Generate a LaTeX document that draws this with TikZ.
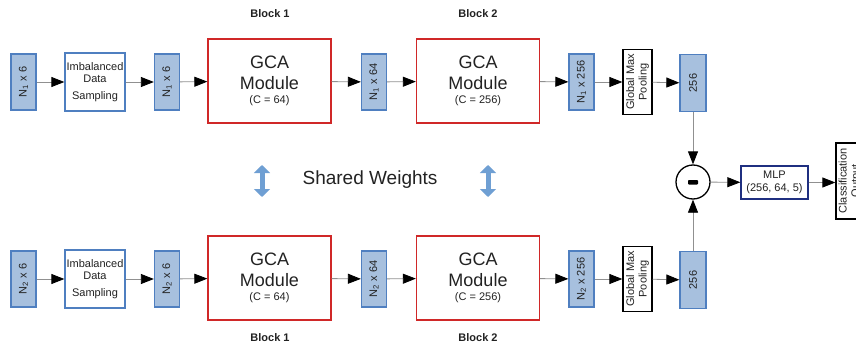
\documentclass[tikz,border=0pt]{standalone}
\usepackage{fontspec}
\setmainfont{Liberation Sans}
\usetikzlibrary{arrows.meta}
\definecolor{bfill}{HTML}{A7C0DE}
\definecolor{bdraw}{HTML}{4F7FC0}
\definecolor{rdraw}{HTML}{D02828}
\definecolor{navy}{HTML}{1F2F80}
\definecolor{lgray}{HTML}{909090}
\definecolor{swblue}{HTML}{6F9FD3}
\definecolor{txt}{HTML}{222222}
\newcommand{\gcasmall}{\fontsize{11}{12}\selectfont}
\newcommand{\gcalabel}[1]{GCA\\Module\\[-7pt]{\gcasmall (C = #1)}}
\begin{document}
\begin{tikzpicture}[x=1pt,y=-1pt,
  font=\fontsize{11}{12.5}\selectfont, text=txt,
  sbox/.style={draw=bdraw, fill=bfill, line width=1.3pt, rotate=90,
    minimum width=56pt, minimum height=25pt, inner sep=0pt},
  outbox/.style={sbox, minimum width=57pt, minimum height=26pt},
  imbbox/.style={draw=bdraw, fill=white, line width=1.3pt,
    minimum width=60pt, minimum height=58pt, inner sep=0pt, align=center},
  gcabox/.style={draw=rdraw, line width=1.3pt, minimum width=123pt,
    minimum height=84pt, inner sep=0pt, align=center,
    font=\fontsize{18}{21}\selectfont},
  gmpbox/.style={draw=black, line width=1.3pt, rotate=90, minimum width=65pt,
    minimum height=29pt, inner sep=0pt, align=center},
  mlpbox/.style={draw=navy, line width=1.3pt, minimum width=67pt,
    minimum height=33pt, inner sep=0pt, align=center},
  clsbox/.style={draw=black, line width=1.3pt, rotate=90, minimum width=76pt,
    minimum height=28pt, inner sep=0pt, align=center},
  conn/.style={draw=lgray, line width=0.8pt,
    -{Triangle[length=13pt,width=10pt,black]}},
  blocklbl/.style={font=\fontsize{11}{12}\selectfont\bfseries},
  swarrow/.style={draw=swblue, line width=5pt,
    {Triangle[length=8pt,width=16pt]}-{Triangle[length=8pt,width=16pt]}}
]
\path[use as bounding box] (0,0) rectangle (856,350);
\clip (0,0) rectangle (856,350);

% labels
\node[blocklbl] (b1t) at (270,14) {Block 1};
\node[blocklbl] (b2t) at (478,14) {Block 2};
\node[blocklbl] (b1b) at (270,338) {Block 1};
\node[blocklbl] (b2b) at (478,338) {Block 2};

% top row
\node[sbox]   (a1) at (23.5,82) {N\textsubscript{1} x 6};
\node[imbbox] (a2) at (95,82) {Imbalanced\\Data\\[4pt]Sampling};
\node[sbox]   (a3) at (167,82) {N\textsubscript{1} x 6};
\node[gcabox] (a4) at (269.5,81) {\gcalabel{64}};
\node[sbox]   (a5) at (374,82) {N\textsubscript{1} x 64};
\node[gcabox] (a6) at (478,81) {\gcalabel{256}};
\node[sbox]   (a7) at (581.5,82) {N\textsubscript{1} x 256};
\node[gmpbox] (a8) at (637.5,82) {Global Max\\Pooling};
\node[outbox] (a9) at (693,83) {256};

% bottom row
\node[sbox]   (c1) at (23.5,279) {N\textsubscript{2} x 6};
\node[imbbox] (c2) at (95,279) {Imbalanced\\Data\\[4pt]Sampling};
\node[sbox]   (c3) at (167,279) {N\textsubscript{2} x 6};
\node[gcabox] (c4) at (269.5,278) {\gcalabel{64}};
\node[sbox]   (c5) at (374,279) {N\textsubscript{2} x 64};
\node[gcabox] (c6) at (478,278) {\gcalabel{256}};
\node[sbox]   (c7) at (581.5,279) {N\textsubscript{2} x 256};
\node[gmpbox] (c8) at (637.5,279) {Global Max\\Pooling};
\node[outbox] (c9) at (693,280) {256};

% merge
\node[draw=black, line width=1.3pt, circle, minimum size=34pt, inner sep=0pt] (m) at (693,182) {};
\fill[black, rounded corners=0.8pt] (688,180) rectangle (698,184.5);
\node[mlpbox] (mlp) at (774.5,182.5) {MLP\\(256, 64, 5)};
\node[clsbox] (cls) at (850,181) {Classification\\Output};

% connectors
\foreach \r in {a,c}{
  \draw[conn] (\r1) -- (\r2);
  \draw[conn] (\r2) -- (\r3);
  \draw[conn] (\r3) -- (\r4);
  \draw[conn] (\r4) -- (\r5);
  \draw[conn] (\r5) -- (\r6);
  \draw[conn] (\r6) -- (\r7);
  \draw[conn] (\r7) -- (\r8);
  \draw[conn] (\r8) -- (\r9);
}
\draw[conn] (a9) -- (m);
\draw[conn] (c9) -- (m);
\draw[conn] (m) -- (mlp);
\draw[conn] (mlp) -- (mlp.east -| cls.north);

% shared weights
\node[font=\fontsize{19}{20}\selectfont] (sw) at (370,180) {Shared Weights};
\coordinate (s1a) at (262,165);
\coordinate (s1b) at (262,197);
\coordinate (s2a) at (488,165);
\coordinate (s2b) at (488,197);
\draw[swarrow] (s1a) -- (s1b);
\draw[swarrow] (s2a) -- (s2b);
\end{tikzpicture}
\end{document}
